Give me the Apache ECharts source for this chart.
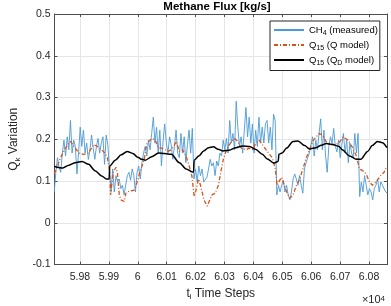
<!DOCTYPE html>
<html>
<head>
<meta charset="utf-8">
<script src="https://cdn.jsdelivr.net/npm/echarts@6.0.0/dist/echarts.min.js"></script>
<style>
  html, body { margin: 0; padding: 0; background: #fff; }
  #chart { width: 391px; height: 306px; }
</style>
</head>
<body>
<div id="chart"></div>
<script>
// axis limits (time steps / flux)
const xMin = 59712
const xMax = 60862
const yMin = -0.1
const yMax = 0.5

// CH4 (measured): uniformly sampled, first sample at blueStart, spacing blueStep
const blueStart = 59711
const blueStep = 5.62
const blueValues = [
  0.074, 0.121, 0.156, 0.133, 0.121, 0.167, 0.198, 0.160, 0.206, 0.175,
  0.245, 0.167, 0.198, 0.183, 0.117, 0.167, 0.229, 0.183, 0.222, 0.167,
  0.191, 0.152, 0.175, 0.210, 0.179, 0.152, 0.183, 0.202, 0.167, 0.191,
  0.206, 0.140, 0.210, 0.187, 0.190,
  0.074, 0.129, 0.074, 0.113, 0.098, 0.105, 0.082, 0.090, 0.067, 0.090,
  0.113, 0.121, 0.102, 0.129, 0.113, 0.074, 0.121, 0.136, 0.105, 0.144,
  0.167, 0.183, 0.160, 0.198, 0.175, 0.214, 0.253, 0.191, 0.229, 0.167,
  0.222, 0.136, 0.195, 0.237, 0.191,
  0.167, 0.206, 0.187, 0.152, 0.183, 0.222, 0.167, 0.156, 0.214, 0.167,
  0.206, 0.144, 0.187, 0.222, 0.167, 0.226, 0.105, 0.129, 0.098, 0.136,
  0.113, 0.129, 0.098, 0.094, 0.109, 0.129, 0.152, 0.136, 0.144, 0.113,
  0.148, 0.136, 0.167, 0.160, 0.198,
  0.175, 0.202, 0.167, 0.245, 0.191, 0.214, 0.175, 0.291, 0.229, 0.183,
  0.206, 0.167, 0.222, 0.276, 0.206, 0.253, 0.191, 0.237, 0.167, 0.222,
  0.183, 0.253, 0.191, 0.229, 0.191, 0.237, 0.245, 0.191, 0.229, 0.175,
  0.260, 0.245, 0.067, 0.090, 0.074,
  0.090, 0.102, 0.074, 0.090, 0.067, 0.055, 0.074, 0.105, 0.117, 0.105,
  0.090, 0.113, 0.090, 0.071, 0.129, 0.144, 0.156, 0.167, 0.187, 0.206,
  0.160, 0.198, 0.175, 0.214, 0.249, 0.175, 0.222, 0.160, 0.121, 0.183,
  0.206, 0.191, 0.226, 0.183, 0.170,
  0.198, 0.156, 0.187, 0.214, 0.167, 0.198, 0.144, 0.191, 0.167, 0.156,
  0.214, 0.167, 0.214, 0.063, 0.098, 0.074, 0.113, 0.090, 0.067, 0.082,
  0.074, 0.055, 0.082, 0.090, 0.105, 0.074, 0.098, 0.090, 0.086, 0.074,
  0.071
]

// Q15 (Q model): [time step, value]
const qModel = [
  [59711, 0.117], [59722, 0.136], [59733, 0.156], [59750, 0.179], [59767, 0.195],
  [59773, 0.196], [59784, 0.179], [59796, 0.167], [59813, 0.164], [59830, 0.167],
  [59847, 0.187], [59858, 0.184], [59875, 0.175], [59886, 0.167], [59895, 0.156],
  [59903, 0.121], [59906, 0.067], [59915, 0.121], [59925, 0.133], [59930, 0.117],
  [59936, 0.067], [59942, 0.055], [59953, 0.051], [59959, 0.071], [59970, 0.076],
  [59987, 0.078], [59998, 0.098], [60009, 0.125], [60021, 0.148], [60032, 0.191],
  [60049, 0.202], [60060, 0.198], [60072, 0.179], [60083, 0.179], [60094, 0.175],
  [60105, 0.171], [60116, 0.175], [60127, 0.187], [60133, 0.195], [60144, 0.171],
  [60155, 0.175], [60167, 0.160], [60178, 0.136], [60187, 0.113], [60195, 0.063],
  [60200, 0.074], [60210, 0.105], [60217, 0.090], [60229, 0.055], [60240, 0.040],
  [60246, 0.043], [60257, 0.067], [60268, 0.071], [60279, 0.090], [60289, 0.128],
  [60296, 0.152], [60307, 0.175], [60324, 0.195], [60335, 0.202], [60346, 0.195],
  [60358, 0.179], [60374, 0.175], [60386, 0.179], [60397, 0.175], [60408, 0.191],
  [60420, 0.198], [60431, 0.187], [60448, 0.171], [60465, 0.156], [60476, 0.128],
  [60482, 0.090], [60488, 0.098], [60497, 0.109], [60503, 0.098], [60515, 0.074],
  [60526, 0.059], [60537, 0.067], [60549, 0.090], [60560, 0.105], [60571, 0.129],
  [60583, 0.156], [60594, 0.175], [60605, 0.195], [60617, 0.206], [60628, 0.214],
  [60639, 0.210], [60651, 0.195], [60662, 0.187], [60679, 0.187], [60696, 0.191],
  [60710, 0.206], [60727, 0.198], [60744, 0.179], [60756, 0.160], [60767, 0.129],
  [60778, 0.125], [60790, 0.117], [60801, 0.098], [60812, 0.090], [60824, 0.098],
  [60840, 0.113], [60852, 0.121], [60861, 0.136]
]

// Q15 (QD model): [time step, value]
const qdModel = [
  [59711, 0.136], [59722, 0.133], [59739, 0.131], [59762, 0.138], [59784, 0.144],
  [59807, 0.147], [59830, 0.140], [59852, 0.125], [59875, 0.112], [59892, 0.105],
  [59901, 0.105], [59903, 0.136], [59922, 0.150], [59943, 0.163], [59963, 0.171],
  [59983, 0.166], [60000, 0.157], [60014, 0.152], [60026, 0.150], [60048, 0.158],
  [60072, 0.167], [60092, 0.166], [60116, 0.164], [60144, 0.144], [60167, 0.129],
  [60189, 0.122], [60193, 0.122], [60195, 0.150], [60211, 0.160], [60228, 0.172],
  [60245, 0.180], [60262, 0.182], [60278, 0.176], [60295, 0.172], [60316, 0.174],
  [60340, 0.180], [60363, 0.184], [60387, 0.183], [60407, 0.176], [60431, 0.164],
  [60448, 0.153], [60471, 0.143], [60482, 0.146], [60486, 0.148], [60488, 0.164],
  [60499, 0.167], [60515, 0.179], [60537, 0.195], [60554, 0.196], [60577, 0.185],
  [60594, 0.177], [60617, 0.180], [60635, 0.186], [60652, 0.190], [60672, 0.188],
  [60696, 0.183], [60707, 0.175], [60733, 0.160], [60756, 0.152], [60771, 0.152],
  [60795, 0.171], [60811, 0.185], [60829, 0.195], [60846, 0.192], [60862, 0.180]
]

const seriesNames = ['CH4 (measured)', 'Q15 (Q model)', 'Q15 (QD model)']
const legendLabels = {
  'CH4 (measured)': '{n|CH}{s|4}{n| (measured)}',
  'Q15 (Q model)': '{n|Q}{s|15}{n| (Q model)}',
  'Q15 (QD model)': '{n|Q}{s|15}{n| (Q}{s|D}{n| model)}',
}

const font = 'Liberation Sans'
const axisColor = '#4d4d4d'
const textColor = '#262626'
const gridColor = '#e6e6e6'

const chart = echarts.init(document.getElementById('chart'))

const subRich = {
  n: { fontSize: 12, lineHeight: 15, fontFamily: font, color: textColor },
  s: { fontSize: 8, lineHeight: 8, fontFamily: font, color: textColor, verticalAlign: 'bottom' },
}

const option = {
  animation: false,
  backgroundColor: '#fff',
  grid: { left: 48, right: 4, top: 14, bottom: 34 },
  graphic: [
    {
      type: 'text',
      x: 217,
      y: 7,
      style: {
        text: 'Methane Flux [kg/s]',
        align: 'center',
        verticalAlign: 'middle',
        font: 'bold 11.5px ' + font,
        fill: '#000',
      },
    },
    {
      type: 'text',
      x: 385,
      y: 300,
      style: {
        text: '×10{p|4}',
        align: 'right',
        verticalAlign: 'middle',
        font: '11px ' + font,
        fill: textColor,
        rich: { p: { fontSize: 8, fontFamily: font, verticalAlign: 'top', fill: textColor } },
      },
    },
  ],
  legend: {
    data: seriesNames,
    orient: 'vertical',
    left: 270,
    top: 21,
    itemWidth: 30,
    itemHeight: 10,
    itemGap: 3.5,
    padding: [4, 2, 4, 3],
    borderColor: '#262626',
    borderWidth: 1,
    backgroundColor: '#fff',
    itemStyle: { opacity: 0 },
    formatter: name => legendLabels[name],
    textStyle: {
      fontSize: 9.5,
      fontFamily: font,
      color: '#000',
      rich: {
        n: { fontSize: 9.5, lineHeight: 13, fontFamily: font, color: '#000' },
        s: { fontSize: 7, lineHeight: 7, fontFamily: font, color: '#000', verticalAlign: 'bottom' },
      },
    },
  },
  xAxis: [
    {
      type: 'value',
      min: xMin,
      max: xMax,
      splitNumber: 12,
      name: '{n|t}{s|i}{n| Time Steps}',
      nameLocation: 'middle',
      nameGap: 21,
      nameTextStyle: { rich: subRich },
      axisLine: { onZero: false, lineStyle: { color: axisColor } },
      axisTick: { inside: true, length: 3, lineStyle: { color: axisColor } },
      axisLabel: {
        color: textColor,
        fontSize: 10.5,
        fontFamily: font,
        margin: 7,
        showMinLabel: false,
        showMaxLabel: false,
        formatter: v => String(+(v / 1e4).toFixed(2)),
      },
      splitLine: { show: true, lineStyle: { color: gridColor } },
    },
    {
      type: 'value',
      position: 'top',
      min: xMin,
      max: xMax,
      splitNumber: 12,
      axisLine: { onZero: false, lineStyle: { color: axisColor } },
      axisTick: { inside: true, length: 3, lineStyle: { color: axisColor } },
      axisLabel: { show: false },
      splitLine: { show: false },
    },
  ],
  yAxis: [
    {
      type: 'value',
      min: yMin,
      max: yMax,
      interval: 0.1,
      name: '{n|Q}{s|k}{n| Variation}',
      nameLocation: 'middle',
      nameRotate: 90,
      nameGap: 31,
      nameTextStyle: { rich: subRich },
      axisLine: { show: true, onZero: false, lineStyle: { color: axisColor } },
      axisTick: { show: true, inside: true, length: 3, lineStyle: { color: axisColor } },
      axisLabel: {
        color: textColor,
        fontSize: 10.5,
        fontFamily: font,
        margin: 4,
        formatter: v => String(+v.toFixed(1)),
      },
      splitLine: { show: true, lineStyle: { color: gridColor } },
    },
    {
      type: 'value',
      position: 'right',
      min: yMin,
      max: yMax,
      interval: 0.1,
      axisLine: { show: true, onZero: false, lineStyle: { color: axisColor } },
      axisTick: { show: true, inside: true, length: 3, lineStyle: { color: axisColor } },
      axisLabel: { show: false },
      splitLine: { show: false },
    },
  ],
  series: [
    {
      name: seriesNames[0],
      type: 'line',
      symbol: 'none',
      data: blueValues.map((v, i) => [blueStart + i * blueStep, v]),
      lineStyle: { color: '#4a9ad6', width: 0.9 },
      itemStyle: { color: '#4a9ad6' },
    },
    {
      name: seriesNames[1],
      type: 'line',
      symbol: 'none',
      data: qModel,
      lineStyle: { color: '#d95319', width: 1.3, type: [4, 2, 1, 2] },
      itemStyle: { color: '#d95319' },
    },
    {
      name: seriesNames[2],
      type: 'line',
      symbol: 'none',
      smooth: 0.3,
      smoothMonotone: 'x',
      data: qdModel,
      lineStyle: { color: '#000', width: 1.5 },
      itemStyle: { color: '#000' },
    },
  ],
}

chart.setOption(option)
</script>
</body>
</html>
